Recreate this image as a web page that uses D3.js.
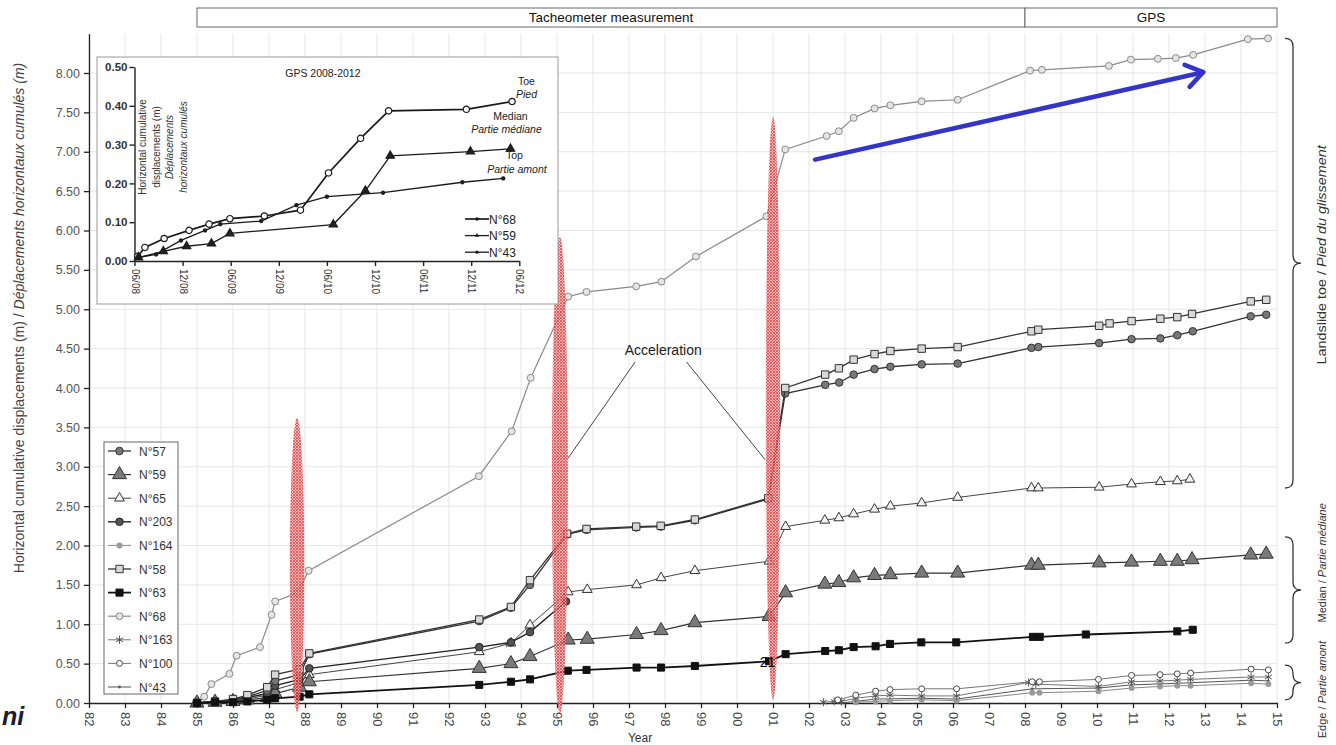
<!DOCTYPE html>
<html>
<head>
<meta charset="utf-8">
<script src="https://cdn.jsdelivr.net/npm/d3@7"></script>
<style>
  body { margin: 0; background: #fff; }
  svg { display: block; }
  text { font-family: "Liberation Sans", Arial, sans-serif; }
</style>
</head>
<body>
<svg id="chart" width="1336" height="745"></svg>
<script>
// ---- data (year, cumulative displacement in m) ----
const yearTicks = d3.range(1982, 2016);
const yTicks = d3.range(0, 8.01, 0.5);

const n68 = [[1985.0,0.00],[1985.2,0.08],[1985.4,0.24],[1985.9,0.37],[1986.1,0.60],[1986.75,0.71],[1987.07,1.12],[1987.17,1.29],[1987.8,1.40],[1988.1,1.68],[1992.83,2.88],[1993.74,3.45],[1994.27,4.13],[1995.31,5.16],[1995.82,5.22],[1997.2,5.29],[1997.9,5.35],[1998.86,5.67],[2000.82,6.18],[2001.34,7.03],[2002.49,7.20],[2002.83,7.26],[2003.24,7.43],[2003.82,7.55],[2004.26,7.59],[2005.13,7.64],[2006.13,7.66],[2008.14,8.03],[2008.47,8.04],[2010.33,8.09],[2010.94,8.17],[2011.69,8.18],[2012.19,8.19],[2012.67,8.23],[2014.19,8.43],[2014.75,8.44]];
const n58 = [[1985.0,0],[1985.5,0.02],[1986.0,0.05],[1986.4,0.10],[1986.95,0.20],[1987.17,0.36],[1987.85,0.43],[1988.12,0.63],[1992.84,1.06],[1993.72,1.22],[1994.25,1.56],[1995.28,2.15],[1995.82,2.21],[1997.2,2.24],[1997.88,2.25],[1998.83,2.33],[2000.87,2.60],[2001.34,4.00],[2002.45,4.17],[2002.83,4.25],[2003.24,4.36],[2003.82,4.43],[2004.26,4.47],[2005.13,4.50],[2006.13,4.52],[2008.18,4.72],[2008.37,4.74],[2010.06,4.79],[2010.35,4.82],[2010.96,4.85],[2011.76,4.88],[2012.23,4.90],[2012.64,4.94],[2014.27,5.10],[2014.7,5.12]];
const n57 = [[1985.0,0],[1985.5,0.02],[1986.0,0.04],[1986.4,0.08],[1986.95,0.16],[1987.17,0.28],[1987.85,0.36],[1988.12,0.62],[1992.84,1.04],[1993.72,1.21],[1994.25,1.50],[1995.28,2.14],[1995.82,2.20],[1997.2,2.23],[1997.88,2.24],[1998.83,2.32],[2000.87,2.59],[2001.34,3.93],[2002.45,4.04],[2002.84,4.07],[2003.24,4.17],[2003.82,4.24],[2004.26,4.27],[2005.13,4.30],[2006.13,4.31],[2008.18,4.51],[2008.37,4.52],[2010.06,4.57],[2010.96,4.62],[2011.76,4.63],[2012.23,4.67],[2012.66,4.72],[2014.27,4.91],[2014.7,4.93]];
const n203 = [[1985.0,0],[1985.5,0.02],[1986.0,0.04],[1986.4,0.07],[1986.95,0.12],[1987.17,0.22],[1987.85,0.30],[1988.12,0.44],[1992.84,0.71],[1993.72,0.77],[1994.25,0.90],[1995.25,1.29]];
const n65 = [[1985.0,0],[1985.5,0.01],[1986.0,0.03],[1986.4,0.05],[1986.95,0.10],[1987.17,0.17],[1987.85,0.26],[1988.12,0.36],[1992.84,0.65],[1993.72,0.76],[1994.25,0.99],[1995.31,1.41],[1995.84,1.44],[1997.21,1.50],[1997.89,1.59],[1998.83,1.68],[2000.89,1.80],[2001.35,2.24],[2002.44,2.32],[2002.83,2.35],[2003.24,2.40],[2003.82,2.46],[2004.26,2.50],[2005.13,2.54],[2006.13,2.61],[2008.18,2.73],[2008.37,2.73],[2010.06,2.74],[2010.96,2.78],[2011.76,2.81],[2012.23,2.82],[2012.58,2.84]];
const n59 = [[1985.0,0],[1985.5,0.01],[1986.0,0.02],[1986.4,0.04],[1986.95,0.07],[1987.17,0.12],[1987.85,0.20],[1988.12,0.27],[1992.84,0.44],[1993.72,0.50],[1994.25,0.59],[1995.31,0.80],[1995.84,0.81],[1997.21,0.87],[1997.89,0.92],[1998.83,1.02],[2000.89,1.10],[2001.35,1.40],[2002.44,1.51],[2002.83,1.53],[2003.24,1.59],[2003.82,1.62],[2004.26,1.63],[2005.13,1.65],[2006.13,1.65],[2008.18,1.75],[2008.37,1.75],[2010.06,1.78],[2010.96,1.79],[2011.76,1.80],[2012.23,1.80],[2012.64,1.82],[2014.27,1.88],[2014.7,1.89]];
const n63 = [[1985.0,0],[1985.5,0.01],[1986.0,0.01],[1986.4,0.02],[1986.95,0.04],[1987.17,0.06],[1987.85,0.08],[1988.12,0.11],[1992.84,0.23],[1993.72,0.27],[1994.25,0.30],[1995.3,0.41],[1995.82,0.42],[1997.21,0.45],[1997.89,0.45],[1998.83,0.47],[2000.89,0.53],[2001.35,0.62],[2002.45,0.66],[2002.83,0.67],[2003.24,0.71],[2003.85,0.72],[2004.25,0.75],[2005.12,0.77],[2006.09,0.77],[2008.22,0.84],[2008.41,0.84],[2009.69,0.87],[2012.23,0.91],[2012.66,0.93]];
const n100 = [[2002.8,0.04],[2003.3,0.10],[2003.85,0.15],[2004.25,0.17],[2005.13,0.18],[2006.1,0.18],[2008.2,0.27],[2008.4,0.27],[2010.04,0.30],[2010.96,0.35],[2011.75,0.36],[2012.23,0.37],[2012.6,0.38],[2014.28,0.43],[2014.76,0.42]];
const n163 = [[2002.4,0.01],[2002.7,0.02],[2002.9,0.02],[2003.3,0.06],[2003.85,0.09],[2004.25,0.10],[2005.13,0.09],[2006.1,0.09],[2008.1,0.26],[2008.3,0.24],[2010.04,0.21],[2010.96,0.27],[2011.75,0.28],[2012.23,0.29],[2012.6,0.30],[2014.28,0.33],[2014.76,0.33]];
const n164 = [[2003.3,0.01],[2003.85,0.02],[2004.25,0.03],[2005.13,0.04],[2006.1,0.03],[2008.2,0.13],[2008.4,0.13],[2010.04,0.15],[2010.96,0.19],[2011.75,0.21],[2012.23,0.22],[2012.6,0.22],[2014.28,0.25],[2014.76,0.24]];
const n43 = [[2002.9,0.00],[2003.85,0.05],[2005.13,0.06],[2006.1,0.05],[2008.2,0.18],[2010.04,0.19],[2010.96,0.23],[2012.23,0.25],[2014.28,0.29],[2014.76,0.28]];

// inset: months since 06/2008, displacement in m
const insetTicks = ["06/08","12/08","06/09","12/09","06/10","12/10","06/11","12/11","06/12"];
const insetYTicks = [0, 0.1, 0.2, 0.3, 0.4, 0.5];
const gps68 = [[0.4,0.012],[1.3,0.035],[3.7,0.058],[6.8,0.079],[9.3,0.095],[11.9,0.109],[16.2,0.116],[20.7,0.131],[24.2,0.227],[28.2,0.316],[31.7,0.387],[41.4,0.391],[47.1,0.411]];
const gps59 = [[0.5,0.009],[3.6,0.025],[6.5,0.038],[9.6,0.045],[11.9,0.071],[24.8,0.094],[28.8,0.181],[31.9,0.271],[41.9,0.282],[46.9,0.289]];
const gps43 = [[0.4,0.009],[2.7,0.017],[5.8,0.053],[8.8,0.079],[10.7,0.095],[15.8,0.103],[20.2,0.144],[24.0,0.166],[31.0,0.176],[40.9,0.203],[46.0,0.213]];

// acceleration zones: year, width (years), value range
const zones = [[1987.78, 0.40, -0.11, 3.62], [1995.08, 0.44, -0.13, 5.92], [2001.0, 0.40, 0.04, 7.44]];
const periods = [["Tacheometer measurement", 1985, 2008], ["GPS", 2008, 2015]];
// label part 1, italic part 2, brace range, label centre
const braces = [["Landslide toe / ", "Pied du glissement", 2.73, 8.44, 5.69], ["Median / ", "Partie médiane", 0.76, 2.11, 1.78], ["Edge / ", "Partie amont", 0.04, 0.48, 0.17]];
const trend = [[2002.17, 6.90], [2012.95, 8.01]];

const svg = d3.select("#chart");
const x = d3.scaleLinear().domain([1982, 2015]).range([89, 1277]);
const y = d3.scaleLinear().domain([0, 8.5]).range([703, 703 - 8.5 * 78.75]);

// hatch pattern for the red zones
const defs = svg.append("defs");
const pat = defs.append("pattern").attr("id", "hatch").attr("width", 3).attr("height", 3)
  .attr("patternUnits", "userSpaceOnUse");
pat.append("rect").attr("width", 3).attr("height", 3).attr("fill", "#f6a8a8");
pat.append("path").attr("d", "M0,0L3,3M3,0L0,3").attr("stroke", "#e0292e").attr("stroke-width", 0.9);

// grid
svg.append("g").selectAll("line").data(yearTicks).join("line")
  .attr("x1", d => x(d)).attr("x2", d => x(d)).attr("y1", y(8.5)).attr("y2", y(0))
  .attr("stroke", "#e6e6e6");
svg.append("g").selectAll("line").data(yTicks.slice(1)).join("line")
  .attr("x1", x(1982)).attr("x2", x(2015)).attr("y1", d => y(d)).attr("y2", d => y(d))
  .attr("stroke", "#e6e6e6");

// top period bar
const bar = svg.append("g");
periods.forEach(p => {
  bar.append("rect").attr("x", x(p[1])).attr("y", 8).attr("width", x(p[2]) - x(p[1])).attr("height", 19)
    .attr("fill", "#fff").attr("stroke", "#666");
  bar.append("text").attr("x", (x(p[1]) + x(p[2])) / 2).attr("y", 22).attr("text-anchor", "middle")
    .attr("font-size", 13.5).attr("fill", "#111").text(p[0]);
});

// axes
const xAxis = svg.append("g").attr("transform", `translate(0,${y(0)})`)
  .call(d3.axisBottom(x).tickValues(yearTicks).tickSize(5).tickSizeOuter(0)
    .tickFormat(d => String(d % 100).padStart(2, "0")));
xAxis.select(".domain").attr("stroke", "#222").attr("stroke-width", 1.3);
xAxis.selectAll(".tick line").attr("stroke", "#222").attr("stroke-width", 1.3);
xAxis.selectAll(".tick text").attr("transform", "rotate(90)").attr("x", 9).attr("y", 0).attr("dy", "0.35em")
  .attr("text-anchor", "start").attr("font-size", 13).attr("fill", "#444")
  .attr("font-family", "Liberation Sans, Arial, sans-serif");

const yAxis = svg.append("g").attr("transform", `translate(${x(1982)},0)`)
  .call(d3.axisLeft(y).tickValues(yTicks).tickSize(5).tickSizeOuter(0).tickFormat(d3.format(".2f")));
yAxis.select(".domain").attr("stroke", "#222").attr("stroke-width", 1.3);
yAxis.selectAll(".tick line").attr("stroke", "#222").attr("stroke-width", 1.3);
yAxis.selectAll(".tick text").attr("font-size", 12.5).attr("fill", "#555").attr("x", -9)
  .attr("font-family", "Liberation Mono, DejaVu Sans Mono, monospace");

// axis titles
const yt = svg.append("text").attr("transform", "translate(24,318) rotate(-90)")
  .attr("text-anchor", "middle").attr("font-size", 14).attr("fill", "#444");
yt.append("tspan").text("Horizontal cumulative displacements (m) / ");
yt.append("tspan").attr("font-style", "italic").text("Déplacements horizontaux cumulés (m)");
svg.append("text").attr("x", 640).attr("y", 742).attr("text-anchor", "middle")
  .attr("font-size", 12).attr("fill", "#333").text("Year");

// series
const series = [
  { name: "N°68", data: n68, sym: d3.symbolCircle, size: 38, fill: "#e4e4e4", stroke: "#8a8a8a", line: "#8a8a8a", lw: 1.2 },
  { name: "N°43", data: n43, sym: d3.symbolCircle, size: 6, fill: "#555", stroke: "none", line: "#555", lw: 1 },
  { name: "N°164", data: n164, sym: d3.symbolCircle, size: 28, fill: "#999", stroke: "none", line: "#888", lw: 1 },
  { name: "N°163", data: n163, sym: d3.symbolAsterisk, size: 45, fill: "none", stroke: "#555", line: "#777", lw: 1 },
  { name: "N°100", data: n100, sym: d3.symbolCircle, size: 28, fill: "#fff", stroke: "#444", line: "#777", lw: 1 },
  { name: "N°65", data: n65, sym: d3.symbolTriangle, size: 42, fill: "#f4f4f4", stroke: "#333", line: "#444", lw: 1 },
  { name: "N°59", data: n59, sym: d3.symbolTriangle, size: 85, fill: "#7a7a7a", stroke: "#333", line: "#333", lw: 1.2 },
  { name: "N°203", data: n203, sym: d3.symbolCircle, size: 45, fill: "#555", stroke: "#222", line: "#222", lw: 1.4 },
  { name: "N°57", data: n57, sym: d3.symbolCircle, size: 45, fill: "#777", stroke: "#333", line: "#333", lw: 1.3 },
  { name: "N°58", data: n58, sym: d3.symbolSquare, size: 55, fill: "#d8d8d8", stroke: "#333", line: "#333", lw: 1.3 },
  { name: "N°63", data: n63, sym: d3.symbolSquare, size: 50, fill: "#111", stroke: "#111", line: "#111", lw: 1.8 }
];

const line = d3.line().x(d => x(d[0])).y(d => y(d[1]));
series.forEach(s => {
  const g = svg.append("g");
  g.append("path").attr("d", line(s.data)).attr("fill", "none").attr("stroke", s.line).attr("stroke-width", s.lw);
  g.selectAll("path.m").data(s.data).join("path").attr("class", "m")
    .attr("transform", d => `translate(${x(d[0])},${y(d[1])})`)
    .attr("d", d3.symbol(s.sym, s.size)).attr("fill", s.fill).attr("stroke", s.stroke).attr("stroke-width", 1);
});

// acceleration zones
svg.append("g").selectAll("ellipse").data(zones).join("ellipse")
  .attr("cx", d => x(d[0])).attr("cy", d => (y(d[2]) + y(d[3])) / 2)
  .attr("rx", d => (x(d[0] + d[1]) - x(d[0])) / 2).attr("ry", d => (y(d[2]) - y(d[3])) / 2)
  .attr("fill", "url(#hatch)").attr("opacity", 0.8);

// acceleration annotation
const acc = svg.append("g");
acc.append("text").attr("x", x(1997.95)).attr("y", y(4.42)).attr("text-anchor", "middle")
  .attr("font-size", 14).attr("fill", "#222").text("Acceleration");
[[1997.17, 4.33, 1995.31, 3.11], [1998.6, 4.33, 2000.78, 3.09]].forEach(l => {
  acc.append("line").attr("x1", x(l[0])).attr("y1", y(l[1])).attr("x2", x(l[2])).attr("y2", y(l[3]))
    .attr("stroke", "#444").attr("stroke-width", 1);
});
svg.append("text").attr("x", x(2000.85)).attr("y", y(0.46)).attr("text-anchor", "middle")
  .attr("font-size", 14).attr("fill", "#000").text("21");

// blue trend arrow
const [p0, p1] = trend.map(d => [x(d[0]), y(d[1])]);
const ang = Math.atan2(p1[1] - p0[1], p1[0] - p0[0]);
const arrow = svg.append("g").attr("stroke", "#3434c8").attr("stroke-width", 4.5).attr("fill", "none")
  .attr("stroke-linecap", "round");
arrow.append("line").attr("x1", p0[0]).attr("y1", p0[1]).attr("x2", p1[0]).attr("y2", p1[1]);
arrow.append("path").attr("d", `M${p1[0] - 20 * Math.cos(ang - 0.6)},${p1[1] - 20 * Math.sin(ang - 0.6)}L${p1[0]},${p1[1]}L${p1[0] - 20 * Math.cos(ang + 0.6)},${p1[1] - 20 * Math.sin(ang + 0.6)}`)
  .attr("stroke-linejoin", "round");

// right braces
const bx = 1285, bw = 16;
const stretch = [1.2, 1, 1];
braces.forEach((b, i) => {
  const y1 = y(b[3]), y2 = y(b[2]), ym = (y1 + y2) / 2, r = Math.min(8, (y2 - y1) / 4), sx = bx + bw / 2;
  svg.append("path").attr("fill", "none").attr("stroke", "#333").attr("stroke-width", 1.3)
    .attr("d", `M${bx},${y1}Q${sx},${y1} ${sx},${y1 + r}L${sx},${ym - r}Q${sx},${ym} ${bx + bw},${ym}Q${sx},${ym} ${sx},${ym + r}L${sx},${y2 - r}Q${sx},${y2} ${bx},${y2}`);
  const t = svg.append("text").attr("transform", `translate(1326,${y(b[4])}) rotate(-90) scale(${stretch[i]},1)`)
    .attr("text-anchor", "middle").attr("font-size", i === 0 ? 12 : 11).attr("fill", "#333");
  t.append("tspan").text(b[0]);
  t.append("tspan").attr("font-style", "italic").text(b[1]);
});

// main legend
const legend = svg.append("g");
legend.append("rect").attr("x", 104).attr("y", 442).attr("width", 74).attr("height", 252)
  .attr("fill", "#fff").attr("stroke", "#666");
const order = ["N°57", "N°59", "N°65", "N°203", "N°164", "N°58", "N°63", "N°68", "N°163", "N°100", "N°43"];
order.forEach((n, i) => {
  const s = series.find(d => d.name === n);
  const ly = 451 + i * 23.6;
  legend.append("line").attr("x1", 108).attr("x2", 131).attr("y1", ly).attr("y2", ly)
    .attr("stroke", s.line).attr("stroke-width", s.lw);
  legend.append("path").attr("transform", `translate(119.5,${ly})`).attr("d", d3.symbol(s.sym, s.size))
    .attr("fill", s.fill).attr("stroke", s.stroke).attr("stroke-width", 1);
  legend.append("text").attr("x", 139).attr("y", ly + 4.5).attr("font-size", 12).attr("fill", "#333").text(n);
});

// ---- inset GPS 2008-2012 ----
const inset = svg.append("g");
inset.append("rect").attr("x", 97).attr("y", 57).attr("width", 461).attr("height", 247)
  .attr("fill", "#fff").attr("stroke", "#999");
const ix = d3.scaleLinear().domain([0, 48]).range([134.5, 519.3]);
const iy = d3.scaleLinear().domain([0, 0.5]).range([261, 67]);
const ixa = inset.append("g").attr("transform", `translate(0,${iy(0)})`)
  .call(d3.axisBottom(ix).tickValues(d3.range(0, 49, 6)).tickSize(5).tickSizeOuter(0)
    .tickFormat((d, i) => insetTicks[i]));
ixa.select(".domain").attr("stroke", "#222").attr("stroke-width", 1.4);
ixa.selectAll(".tick line").attr("stroke", "#222").attr("stroke-width", 1.4);
ixa.selectAll(".tick text").attr("transform", "rotate(90)").attr("x", 8).attr("y", 0).attr("dy", "0.35em")
  .attr("text-anchor", "start").attr("font-size", 10).attr("fill", "#333");
const iya = inset.append("g").attr("transform", `translate(${ix(0)},0)`)
  .call(d3.axisLeft(iy).tickValues(insetYTicks).tickSize(5).tickSizeOuter(0).tickFormat(d3.format(".2f")));
iya.select(".domain").attr("stroke", "#222").attr("stroke-width", 1.4);
iya.selectAll(".tick line").attr("stroke", "#222").attr("stroke-width", 1.4);
iya.selectAll(".tick text").attr("font-size", 11.5).attr("font-weight", "bold").attr("fill", "#333").attr("x", -7);

const ititle = [["Horizontal cumulative", false], ["displacements (m)", false], ["Déplacements", true], ["horizontaux cumulés", true]];
ititle.forEach((t, i) => {
  inset.append("text").attr("transform", `translate(${146 + i * 13.5},147) rotate(-90)`).attr("text-anchor", "middle")
    .attr("font-size", 10).attr("fill", "#333").attr("font-style", t[1] ? "italic" : "normal").text(t[0]);
});

const iline = d3.line().x(d => ix(d[0])).y(d => iy(d[1]));
const gps = [
  { name: "N°68", data: gps68, sym: d3.symbolCircle, size: 32, fill: "#fff", lw: 1.7 },
  { name: "N°59", data: gps59, sym: d3.symbolTriangle, size: 30, fill: "#222", lw: 1.3 },
  { name: "N°43", data: gps43, sym: d3.symbolCircle, size: 8, fill: "#222", lw: 1.3 }
];
gps.forEach((s, i) => {
  inset.append("path").attr("d", iline(s.data)).attr("fill", "none").attr("stroke", "#1a1a1a").attr("stroke-width", s.lw);
  inset.append("g").selectAll("path").data(s.data).join("path")
    .attr("transform", d => `translate(${ix(d[0])},${iy(d[1])})`)
    .attr("d", d3.symbol(s.sym, s.size)).attr("fill", s.fill).attr("stroke", "#1a1a1a").attr("stroke-width", 1.2);
  const ly = 219 + i * 16.6;
  inset.append("line").attr("x1", 465).attr("x2", 489).attr("y1", ly).attr("y2", ly)
    .attr("stroke", "#1a1a1a").attr("stroke-width", s.lw);
  inset.append("path").attr("transform", `translate(477,${ly})`).attr("d", d3.symbol(s.sym, i === 0 ? 10 : 8))
    .attr("fill", "#1a1a1a");
  inset.append("text").attr("x", 489).attr("y", ly + 4.5).attr("font-size", 12).attr("fill", "#222").text(s.name);
});

const notes = [["GPS 2008-2012", 23.5, 0.475, false], ["Toe", 48.9, 0.454, false], ["Pied", 48.9, 0.42, true],
  ["Median", 46.9, 0.363, false], ["Partie médiane", 46.4, 0.33, true], ["Top", 47.4, 0.262, false], ["Partie amont", 47.7, 0.228, true]];
notes.forEach(n => {
  inset.append("text").attr("x", ix(n[1])).attr("y", iy(n[2])).attr("text-anchor", "middle")
    .attr("font-size", 10.5).attr("fill", "#222").attr("font-style", n[3] ? "italic" : "normal").text(n[0]);
});

// slide fragment at bottom left
svg.append("text").attr("x", 2).attr("y", 725).attr("font-size", 25).attr("font-weight", "bold")
  .attr("font-style", "italic").attr("fill", "#1b1b30").text("ni");
</script>
</body>
</html>
